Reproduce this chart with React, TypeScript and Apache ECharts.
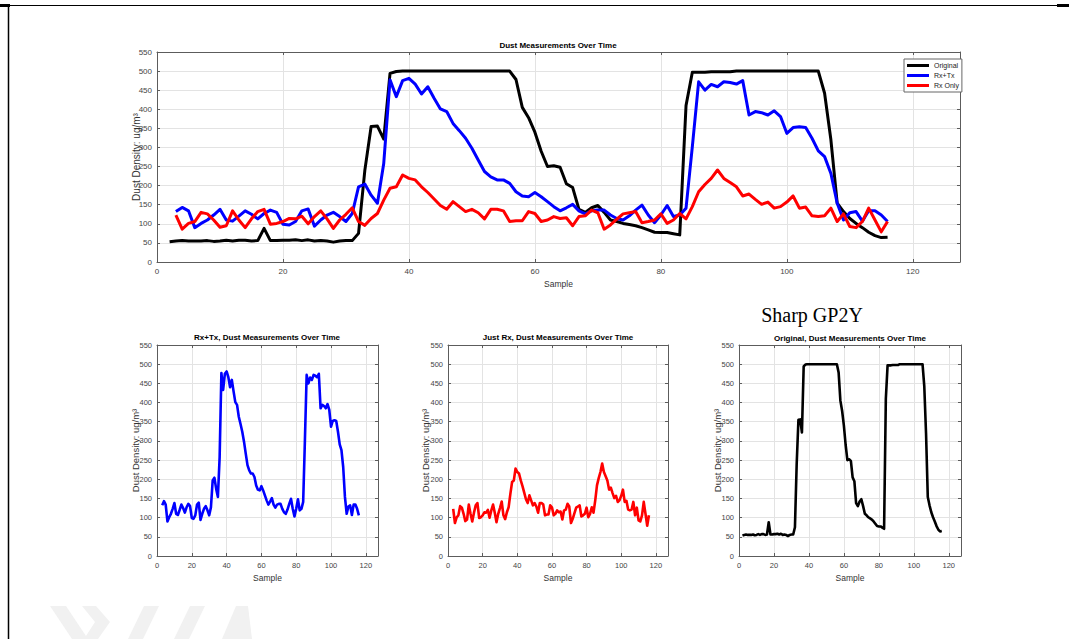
import React, { useEffect, useRef } from "react";
import * as echarts from "echarts";

// ---------- data ----------
const FIRST_SAMPLE_ORIGINAL = 2;
const FIRST_SAMPLE_RX = 3;

const originalValues = [
  53, 55, 56, 55, 55, 55, 56, 54, 55, 57,
  55, 57, 57, 55, 56, 88, 56, 56, 57, 57,
  58, 56, 58, 55, 56, 55, 52, 55, 56, 56,
  75, 240, 355, 356, 322, 494, 499, 500, 500, 500,
  500, 500, 500, 500, 500, 500, 500, 500, 500, 500,
  500, 500, 500, 500, 500, 478, 405, 378, 340, 290,
  250, 252, 248, 205, 195, 138, 130, 142, 148, 130,
  110, 106, 101, 98, 95, 90, 84, 78, 77, 77,
  74, 71, 410, 497, 497, 497, 498, 498, 498, 498,
  500, 500, 500, 500, 500, 500, 500, 500, 500, 500,
  500, 500, 500, 500, 442, 320, 154, 132, 114, 101,
  90, 78, 69, 64, 65,
];

const rxTxValues = [
  132, 143, 134, 90, 101, 110, 123, 138, 110, 107,
  120, 134, 125, 113, 127, 136, 130, 99, 97, 106,
  134, 139, 94, 110, 123, 130, 119, 106, 127, 197,
  204, 175, 154, 258, 477, 433, 475, 481, 466, 440,
  459, 429, 401, 394, 363, 344, 324, 298, 267, 237,
  223, 215, 215, 206, 184, 173, 171, 182, 171, 158,
  145, 134, 142, 151, 134, 126, 134, 136, 136, 123,
  114, 110, 121, 136, 149, 123, 103, 123, 148, 119,
  123, 141, 302, 472, 450, 465, 459, 472, 470, 466,
  475, 385, 394, 391, 385, 396, 381, 337, 352, 354,
  352, 324, 291, 276, 232, 154, 110, 129, 132, 107,
  134, 134, 123, 106,
];

const rxOnlyValues = [
  123, 86, 101, 106, 130, 126, 110, 91, 95, 134,
  110, 90, 113, 132, 138, 99, 101, 106, 114, 113,
  120, 100, 119, 134, 113, 88, 110, 125, 142, 106,
  96, 114, 127, 162, 193, 197, 228, 219, 215, 197,
  182, 165, 148, 138, 158, 145, 132, 138, 129, 113,
  138, 138, 134, 106, 108, 108, 132, 127, 106, 110,
  119, 114, 116, 95, 119, 121, 136, 129, 86, 97,
  112, 126, 129, 132, 103, 106, 110, 126, 101, 110,
  127, 113, 145, 184, 203, 219, 241, 219, 208, 197,
  173, 178, 164, 151, 157, 141, 145, 157, 173, 141,
  144, 121, 119, 121, 141, 106, 126, 93, 90, 106,
  141, 110, 79, 106,
];

const seriesNames = ["Original", "Rx+Tx", "Rx Only"];
const mainTitle = "Dust Measurements Over Time";
const subTitles = [
  "Rx+Tx, Dust Measurements Over Time",
  "Just Rx, Dust Measurements Over Time",
  "Original, Dust Measurements Over Time",
];
const sensorLabel = "Sharp GP2Y";
const xAxisName = "Sample";
const yAxisName = "Dust Density: ug/m³";
const X_TICK_STEP = 20;
const Y_TICK_STEP = 50;
const Y_MAX = 550;

// ---------- helpers ----------
const FONT = "'Liberation Sans', Arial, Helvetica, sans-serif";
const AXIS_COLOR = "#5c5c5c";
const GRID_COLOR = "#e3e3e3";
const LABEL_COLOR = "#444";

const toPairs = (start: number, vals: number[]) => vals.map((v, i) => [start + i, v]);

type GridDef = {
  left: number; top: number; width: number; height: number;
  xMax: number; tickFont: number; nameFont: number; yNameFont: number;
  xNameGap: number; yNameGap: number;
};

const grids: GridDef[] = [
  { left: 157, top: 52, width: 803, height: 210, xMax: 127.5, tickFont: 8, nameFont: 8.5, yNameFont: 10, xNameGap: 17, yNameGap: 16 },
  { left: 157, top: 345, width: 221, height: 211, xMax: 127, tickFont: 7.5, nameFont: 8.5, yNameFont: 9.5, xNameGap: 17, yNameGap: 17 },
  { left: 448, top: 345, width: 220, height: 211, xMax: 127, tickFont: 7.5, nameFont: 8.5, yNameFont: 9.5, xNameGap: 17, yNameGap: 18 },
  { left: 739, top: 345, width: 222, height: 211, xMax: 127, tickFont: 7.5, nameFont: 8.5, yNameFont: 9.5, xNameGap: 17, yNameGap: 17 },
];

export default function App() {
  const ref = useRef<HTMLDivElement>(null);

  useEffect(() => {
    if (!ref.current) return;
    const chart = echarts.init(ref.current, undefined, { renderer: "svg" });

    const xAxes: any[] = [];
    const yAxes: any[] = [];
    grids.forEach((g, gi) => {
      const base = {
        type: "value",
        gridIndex: gi,
        min: 0,
        max: g.xMax,
        interval: X_TICK_STEP,
        axisLine: { show: true, onZero: false, lineStyle: { color: AXIS_COLOR, width: 1 } },
        axisTick: { show: true, inside: true, length: 3, lineStyle: { color: AXIS_COLOR } },
      };
      xAxes.push({
        ...base,
        position: "bottom",
        axisLabel: { fontSize: g.tickFont, color: LABEL_COLOR, margin: 5, fontFamily: FONT, showMaxLabel: false },
        splitLine: { show: true, lineStyle: { color: GRID_COLOR, width: 1 } },
        name: xAxisName,
        nameLocation: "middle",
        nameGap: g.xNameGap,
        nameMoveOverlap: false,
        nameTextStyle: { fontSize: g.nameFont, color: "#333", fontFamily: FONT },
      });
      xAxes.push({
        ...base,
        position: "top",
        axisLabel: { show: false },
        splitLine: { show: false },
      });
      const ybase = {
        type: "value",
        gridIndex: gi,
        min: 0,
        max: Y_MAX,
        interval: Y_TICK_STEP,
        axisLine: { show: true, onZero: false, lineStyle: { color: AXIS_COLOR, width: 1 } },
        axisTick: { show: true, inside: true, length: 3, lineStyle: { color: AXIS_COLOR } },
      };
      yAxes.push({
        ...ybase,
        position: "left",
        axisLabel: { fontSize: g.tickFont, color: LABEL_COLOR, margin: 5, fontFamily: FONT },
        splitLine: { show: true, lineStyle: { color: GRID_COLOR, width: 1 } },
        name: yAxisName,
        nameLocation: "middle",
        nameGap: g.yNameGap,
        nameRotate: 90,
        nameMoveOverlap: false,
        nameTextStyle: { fontSize: g.yNameFont, color: "#333", fontFamily: FONT },
      });
      yAxes.push({
        ...ybase,
        position: "right",
        axisLabel: { show: false },
        splitLine: { show: false },
      });
    });

    const origData = toPairs(FIRST_SAMPLE_ORIGINAL, originalValues);
    const rxTxData = toPairs(FIRST_SAMPLE_RX, rxTxValues);
    const rxOnlyData = toPairs(FIRST_SAMPLE_RX, rxOnlyValues);

    const line = (name: string, data: number[][], color: string, gi: number, width: number) => ({
      type: "line",
      name,
      data,
      xAxisIndex: gi * 2,
      yAxisIndex: gi * 2,
      symbol: "none",
      showSymbol: false,
      lineStyle: { color, width, join: "round" },
      itemStyle: { color },
      z: 3,
    });

    const series = [
      line(seriesNames[0], origData, "#000000", 0, 3),
      line(seriesNames[1], rxTxData, "#0000ff", 0, 3),
      line(seriesNames[2], rxOnlyData, "#ff0000", 0, 3),
      line("sub-rxtx", rxTxData, "#0000ff", 1, 2.6),
      line("sub-rx", rxOnlyData, "#ff0000", 2, 2.6),
      line("sub-orig", origData, "#000000", 3, 2.6),
    ];

    const titleText = (text: string, x: number, y: number) => ({
      type: "text",
      x,
      y,
      style: {
        text,
        fill: "#000",
        font: `bold 8px ${FONT}`,
        textAlign: "center",
        textVerticalAlign: "middle",
      },
      z: 10,
    });

    const wm = "#f1f1f1";
    const graphic: any[] = [
      // faint watermark shapes at the bottom
      { type: "polygon", shape: { points: [[50, 606], [66, 606], [88, 639], [72, 639]] }, style: { fill: wm }, z: -1 },
      { type: "polygon", shape: { points: [[82, 606], [96, 606], [110, 622], [98, 639], [84, 639], [95, 622]] }, style: { fill: wm }, z: -1 },
      { type: "polygon", shape: { points: [[144, 606], [159, 606], [143, 639], [128, 639]] }, style: { fill: wm }, z: -1 },
      { type: "polygon", shape: { points: [[190, 606], [205, 606], [189, 639], [174, 639]] }, style: { fill: wm }, z: -1 },
      { type: "polygon", shape: { points: [[236, 606], [248, 606], [252, 639], [222, 639]] }, style: { fill: wm }, z: -1 },
      // page frame
      { type: "line", shape: { x1: 8.5, y1: 5, x2: 8.5, y2: 639 }, style: { stroke: "#000", lineWidth: 1.5 } },
      { type: "line", shape: { x1: 8, y1: 5.5, x2: 1060, y2: 5.5 }, style: { stroke: "#000", lineWidth: 1 } },
      { type: "line", shape: { x1: 0, y1: 5.5, x2: 10, y2: 5.5 }, style: { stroke: "#000", lineWidth: 3 } },
      { type: "line", shape: { x1: 1057, y1: 5.5, x2: 1069, y2: 5.5 }, style: { stroke: "#000", lineWidth: 3 } },
      // titles
      titleText(mainTitle, 558, 45),
      titleText(subTitles[0], 267, 337),
      titleText(subTitles[1], 558, 337),
      titleText(subTitles[2], 850, 338),
      {
        type: "text",
        x: 812,
        y: 315,
        style: {
          text: sensorLabel,
          fill: "#000",
          font: `20px 'Liberation Serif', 'Times New Roman', serif`,
          textAlign: "center",
          textVerticalAlign: "middle",
        },
      },
    ];

    chart.setOption({
      animation: false,
      backgroundColor: "#ffffff",
      grid: grids.map((g) => ({ left: g.left, top: g.top, width: g.width, height: g.height, containLabel: false })),
      xAxis: xAxes,
      yAxis: yAxes,
      legend: {
        data: seriesNames,
        orient: "vertical",
        left: 904,
        top: 59,
        icon: "rect",
        itemWidth: 22,
        itemHeight: 3,
        itemGap: 1,
        padding: [2, 3, 2, 3],
        backgroundColor: "#ffffff",
        borderColor: "#666",
        borderWidth: 1,
        borderRadius: 0,
        selectedMode: false,
        textStyle: { fontSize: 7, color: "#222", fontFamily: FONT, lineHeight: 9 },
        z: 20,
      },
      series,
      graphic,
    });

    return () => chart.dispose();
  }, []);

  return (
    <div
      ref={ref}
      style={{ position: "fixed", left: 0, top: 0, width: 1069, height: 639, background: "#fff" }}
    />
  );
}
